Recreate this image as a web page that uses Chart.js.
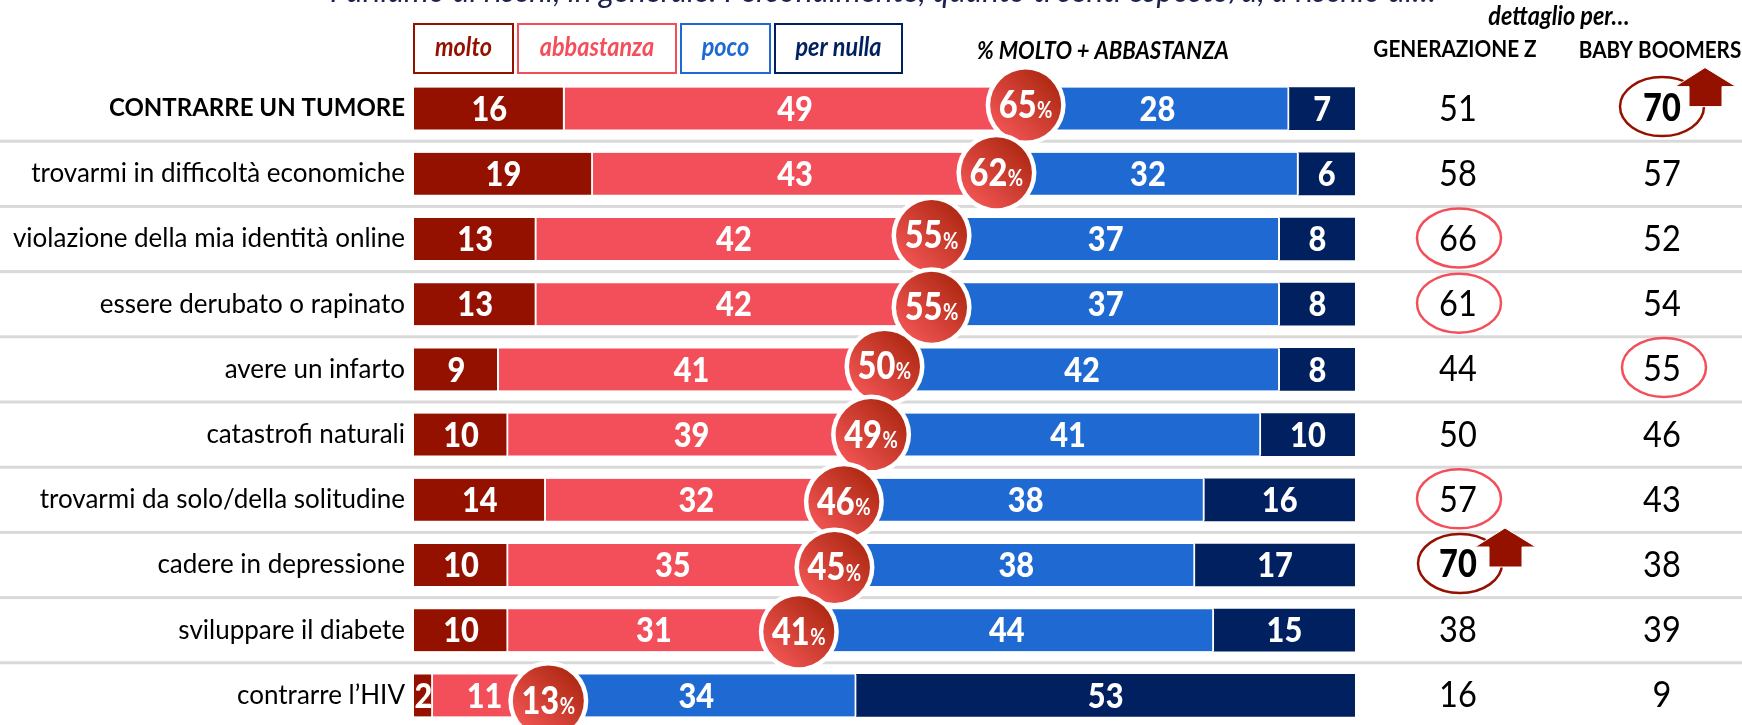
<!DOCTYPE html>
<html>
<head>
<meta charset="utf-8">
<script src="https://cdn.jsdelivr.net/npm/chart.js@4"></script>
<style>
  html, body { margin: 0; padding: 0; background: #fff; overflow: hidden; height: 725px; }
</style>
</head>
<body>
<canvas id="myChart" width="1742" height="760"></canvas>
<script>
const categories = [
  "CONTRARRE UN TUMORE", "trovarmi in difficoltà economiche", "violazione della mia identità online",
  "essere derubato o rapinato", "avere un infarto", "catastrofi naturali",
  "trovarmi da solo/della solitudine", "cadere in depressione", "sviluppare il diabete", "contrarre l’HIV"
];
const molto = [16, 19, 13, 13, 9, 10, 14, 10, 10, 2];
const abbastanza = [49, 43, 42, 42, 41, 39, 32, 35, 31, 11];
const poco = [28, 32, 37, 37, 42, 41, 38, 38, 44, 34];
const perNulla = [7, 6, 8, 8, 8, 10, 16, 17, 15, 53];
const totals = [65, 62, 55, 55, 50, 49, 46, 45, 41, 13];
const genZ = [51, 58, 66, 61, 44, 50, 57, 70, 38, 16];
const boomers = [70, 57, 52, 54, 55, 46, 43, 38, 39, 9];
// rows ringed in each column
const genZPink = [2, 3, 6];
const boomersPink = [4];
const genZUp = [7];
const boomersUp = [0];

const DARK = "#941100", PINK = "#f24f5b", BLUE = "#1e6ad2", NAVY = "#00205f";
const FONT = "Lato, sans-serif";
const colA = 1458, colB = 1662;
// the bubbles were nudged by hand in the original slide
const bubbleDx = [0, -1, 0, 0, 0, -4, -3, -3, -1, 12];
const bubbleDy = [-3.5, -1, -3.5, 3, -3, 0, 2, 2.5, 1.5, 5.5];

// text with a little horizontal squeeze, Lato is wider than the original face
function text(ctx, str, x, y, font, color, align, sx) {
  sx = sx || 0.9;
  ctx.save();
  ctx.font = font;
  ctx.fillStyle = color;
  ctx.textAlign = align || "center";
  ctx.textBaseline = "middle";
  ctx.translate(x, y);
  ctx.scale(sx, 1);
  ctx.fillText(str, 0, 0);
  ctx.restore();
}

function ring(ctx, x, y, color) {
  ctx.save();
  ctx.strokeStyle = color;
  ctx.lineWidth = 2.5;
  ctx.beginPath();
  ctx.ellipse(x, y, 42, 29.5, 0, 0, Math.PI * 2);
  ctx.stroke();
  ctx.restore();
}

function upArrow(ctx, x, y) {
  ctx.save();
  ctx.fillStyle = DARK;
  ctx.strokeStyle = "#fff";
  ctx.lineWidth = 1;
  ctx.beginPath();
  ctx.moveTo(x, y);
  ctx.lineTo(x + 31, y + 19);
  ctx.lineTo(x + 17, y + 19);
  ctx.lineTo(x + 17, y + 39);
  ctx.lineTo(x - 16, y + 39);
  ctx.lineTo(x - 16, y + 19);
  ctx.lineTo(x - 30, y + 19);
  ctx.closePath();
  ctx.fill();
  ctx.stroke();
  ctx.restore();
}

const sheetPlugin = {
  id: "sheet",
  beforeDatasetsDraw(chart) {
    const ctx = chart.ctx, y = chart.scales.y;
    ctx.save();
    ctx.fillStyle = "#d9d9d9";
    for (let i = 0; i < categories.length - 1; i++) {
      let sep = (y.getPixelForValue(i) + y.getPixelForValue(i + 1)) / 2;
      ctx.fillRect(0, sep - 1.5, 1742, 3);
    }
    ctx.restore();
  },
  afterDatasetsDraw(chart) {
    const ctx = chart.ctx, x = chart.scales.x, y = chart.scales.y;

    // values inside the bars
    chart.data.datasets.forEach(function (ds, d) {
      chart.getDatasetMeta(d).data.forEach(function (bar, i) {
        let c = bar.getCenterPoint();
        text(ctx, String(ds.data[i]), c.x, c.y + 1, "900 35px " + FONT, "#fff", "center", 0.88);
      });
    });

    // % molto + abbastanza bubbles
    totals.forEach(function (t, i) {
      let cx = x.getPixelForValue(t) + bubbleDx[i];
      let cy = y.getPixelForValue(i) + bubbleDy[i];
      ctx.save();
      ctx.beginPath();
      ctx.arc(cx, cy, 40, 0, Math.PI * 2);
      ctx.fillStyle = "#fff";
      ctx.fill();
      let g = ctx.createLinearGradient(cx + 25, cy - 25, cx - 25, cy + 25);
      g.addColorStop(0, "#b02a14");
      g.addColorStop(1, "#ef5351");
      ctx.beginPath();
      ctx.arc(cx, cy, 35.5, 0, Math.PI * 2);
      ctx.fillStyle = g;
      ctx.fill();
      ctx.restore();
      text(ctx, String(t), cx - 8, cy + 1, "900 37px " + FONT, "#fff", "center", 0.88);
      text(ctx, "%", cx + 19, cy + 6, "bold 22px " + FONT, "#fff", "center", 0.85);
    });

    // detail columns
    categories.forEach(function (c, i) {
      let cy = y.getPixelForValue(i);
      let zUp = genZUp.includes(i), bUp = boomersUp.includes(i);
      text(ctx, String(genZ[i]), colA, cy, (zUp ? "900 " : "") + "37px " + FONT, "#000", "center", 0.88);
      text(ctx, String(boomers[i]), colB, cy, (bUp ? "900 " : "") + "37px " + FONT, "#000", "center", 0.88);
      if (genZPink.includes(i)) ring(ctx, colA + 1, cy - 1, PINK);
      if (boomersPink.includes(i)) ring(ctx, colB + 2, cy - 2, PINK);
      if (zUp) { ring(ctx, colA + 2, cy - 1.5, DARK); upArrow(ctx, colA + 47, cy - 37); }
      if (bUp) { ring(ctx, colB, cy - 2, DARK); upArrow(ctx, colB + 43, cy - 41); }
    });

    // legend boxes
    const boxes = [[414, 99], [518, 158], [681, 89], [775, 127]];
    chart.data.datasets.forEach(function (ds, d) {
      let b = boxes[d];
      ctx.save();
      ctx.strokeStyle = ds.backgroundColor;
      ctx.lineWidth = 2;
      ctx.strokeRect(b[0], 24, b[1], 49);
      ctx.restore();
      text(ctx, ds.label, b[0] + b[1] / 2, 48, "italic bold 26px " + FONT, ds.backgroundColor);
    });

    // headers
    text(ctx, "% MOLTO + ABBASTANZA", 1103, 51, "italic bold 24.5px " + FONT, "#000");
    text(ctx, "GENERAZIONE Z", 1455, 50, "bold 23px " + FONT, "#000");
    text(ctx, "BABY BOOMERS", 1660, 51, "bold 23px " + FONT, "#000");
    text(ctx, "dettaglio per…", 1559, 17, "italic bold 26px " + FONT, "#000");

    // title, cropped by the top of the picture
    const title = "Parliamo di rischi, in generale. Personalmente, quanto ti senti esposto/a, a rischio di…";
    ctx.save();
    ctx.font = "italic 32px " + FONT;
    let sx = 1106 / ctx.measureText(title).width;
    ctx.restore();
    text(ctx, title, 330, -8, "italic 32px " + FONT, "#1c2350", "left", sx);
  }
};

new Chart("myChart", {
  type: "bar",
  data: {
    labels: categories,
    datasets: [
      { label: "molto", data: molto, backgroundColor: DARK, borderWidth: { right: 2 } },
      { label: "abbastanza", data: abbastanza, backgroundColor: PINK, borderWidth: { right: 2 } },
      { label: "poco", data: poco, backgroundColor: BLUE, borderWidth: { right: 2 } },
      { label: "per nulla", data: perNulla, backgroundColor: NAVY, borderWidth: 0 }
    ]
  },
  options: {
    indexAxis: "y",
    responsive: false,
    animation: false,
    layout: { padding: { left: 0, right: 387, top: 76, bottom: 32 } },
    datasets: { bar: { barThickness: 42, borderColor: "#fff", borderSkipped: false } },
    plugins: {
      legend: { display: false },
      title: { display: false },
      tooltip: { enabled: false }
    },
    scales: {
      x: { stacked: true, display: false, min: 0, max: 100 },
      y: {
        stacked: true,
        offset: true,
        afterFit: function (scale) { scale.width = 414; },
        grid: { display: false, drawTicks: false },
        border: { display: false },
        ticks: {
          padding: 9,
          autoSkip: false,
          color: "#000",
          font: function (c) {
            return c.index === 0
              ? { family: FONT, size: 24, weight: "bold" }
              : { family: FONT, size: 26, weight: "normal" };
          }
        }
      }
    }
  },
  plugins: [sheetPlugin]
});
</script>
</body>
</html>
